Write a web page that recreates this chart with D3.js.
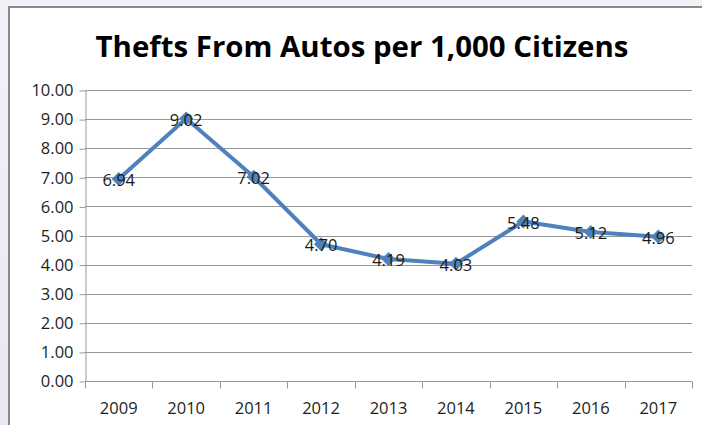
<!DOCTYPE html>
<html>
<head>
<meta charset="utf-8">
<script src="https://cdn.jsdelivr.net/npm/d3@7"></script>
<style>
  html, body { margin: 0; padding: 0; background: #e9e9f3; }
  svg { display: block; }
</style>
</head>
<body>
<svg id="chart" width="702" height="425"></svg>
<script>
// Thefts from autos per 1,000 citizens, by year
const years = ["2009", "2010", "2011", "2012", "2013", "2014", "2015", "2016", "2017"];
const rates = [6.94, 9.02, 7.02, 4.70, 4.19, 4.03, 5.48, 5.12, 4.96];
const yTicks = [0, 1, 2, 3, 4, 5, 6, 7, 8, 9, 10];
const titleText = "Thefts From Autos per 1,000 Citizens";

const svg = d3.select("#chart");
const W = 702, H = 425;
const font = "'Open Sans', 'Noto Sans', sans-serif";
const labelSize = 16.5;

// page backdrop and chart panel
const bg = svg.append("defs").append("linearGradient")
  .attr("id", "bgGrad").attr("x1", 0).attr("y1", 0).attr("x2", 0).attr("y2", 1);
bg.append("stop").attr("offset", 0).attr("stop-color", "#f2f2f8");
bg.append("stop").attr("offset", 1).attr("stop-color", "#e8e8f3");
svg.append("rect").attr("width", W).attr("height", H).attr("fill", "url(#bgGrad)");
svg.append("rect").attr("x", 9).attr("y", 7).attr("width", W).attr("height", H)
  .attr("fill", "#ffffff").attr("stroke", "#8a8a8a").attr("stroke-width", 2);

const plot = { left: 85, right: 692, top: 90, bottom: 381 };

const x = d3.scaleBand().domain(years).range([plot.left, plot.right]).padding(0);
const y = d3.scaleLinear().domain([0, 10]).range([plot.bottom, plot.top]);

// horizontal gridlines
svg.append("g").selectAll("line").data(yTicks.slice(1)).join("line")
  .attr("x1", plot.left).attr("x2", plot.right)
  .attr("y1", d => Math.round(y(d)) + 0.5).attr("y2", d => Math.round(y(d)) + 0.5)
  .attr("stroke", "#999999").attr("stroke-width", 1);

// y axis
const yAxis = svg.append("g").attr("transform", `translate(${plot.left + 0.5},0.5)`)
  .call(d3.axisLeft(y).tickValues(yTicks).tickFormat(d3.format(".2f")).tickSize(6).tickPadding(6).tickSizeOuter(0));
yAxis.select(".domain").attr("stroke", "#999999");
yAxis.selectAll(".tick line").attr("stroke", "#999999");
yAxis.selectAll(".tick text").attr("font-family", font).attr("font-size", labelSize).attr("fill", "#1e1e1e");

// x axis with ticks on category boundaries
const xAxisG = svg.append("g").attr("transform", `translate(0,${Math.round(plot.bottom) + 0.5})`);
xAxisG.append("line").attr("x1", plot.left).attr("x2", plot.right).attr("stroke", "#999999");
const bounds = years.map(d => x(d)).concat([plot.right]);
xAxisG.selectAll("line.tk").data(bounds).join("line").attr("class", "tk")
  .attr("x1", d => Math.round(d) + 0.5).attr("x2", d => Math.round(d) + 0.5)
  .attr("y1", 0).attr("y2", 7).attr("stroke", "#999999");
xAxisG.selectAll("text").data(years).join("text")
  .attr("x", d => x(d) + x.bandwidth() / 2).attr("y", 32)
  .attr("text-anchor", "middle").attr("font-family", font).attr("font-size", labelSize).attr("fill", "#1e1e1e")
  .text(d => d);

// series line
const cx = (d, i) => x(years[i]) + x.bandwidth() / 2;
svg.append("path").datum(rates)
  .attr("d", d3.line().x(cx).y(d => y(d)))
  .attr("fill", "none").attr("stroke", "#4f81bd").attr("stroke-width", 4)
  .attr("stroke-linejoin", "round");

// diamond markers
svg.append("g").selectAll("path").data(rates).join("path")
  .attr("d", d3.symbol().type(d3.symbolSquare).size(100))
  .attr("transform", (d, i) => `translate(${cx(d, i)},${y(d)}) rotate(45)`)
  .attr("fill", "#4f81bd");

// value labels centred on the points
svg.append("g").selectAll("text").data(rates).join("text")
  .attr("x", cx).attr("y", d => y(d) + 7)
  .attr("text-anchor", "middle").attr("font-family", font).attr("font-size", labelSize).attr("fill", "#1a1a1a")
  .text(d => d.toFixed(2));

// title, fitted to its width
const title = svg.append("text").attr("x", 362).attr("y", 57)
  .attr("text-anchor", "middle").attr("font-family", font).attr("font-weight", "bold")
  .attr("font-size", 28).attr("fill", "#000").text(titleText);
const tw = title.node().getComputedTextLength();
title.attr("font-size", 28 * 533 / tw);
</script>
</body>
</html>
